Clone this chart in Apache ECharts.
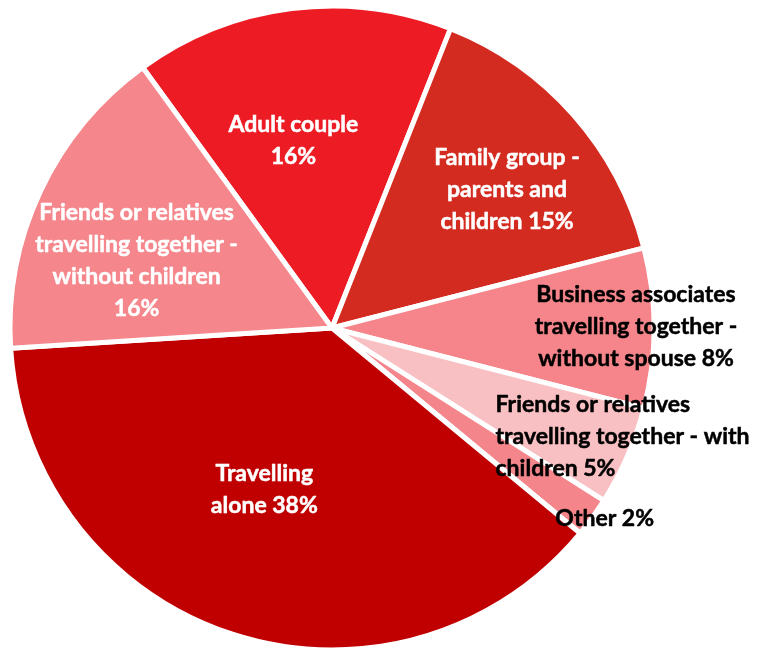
<!DOCTYPE html>
<html>
<head>
<meta charset="utf-8">
<style>
  html, body { margin: 0; padding: 0; background: #ffffff; }
  #chart { width: 760px; height: 652px; }
</style>
<script src="https://cdn.jsdelivr.net/npm/echarts@6/dist/echarts.min.js"></script>
</head>
<body>
<div id="chart"></div>
<script>
// Travel party composition (share of visitors, %)
const categories = [
  'Adult couple',
  'Family group - parents and children',
  'Business associates travelling together - without spouse',
  'Friends or relatives travelling together - with children',
  'Other',
  'Travelling alone',
  'Friends or relatives travelling together - without children'
];
const shares = [16, 15, 8, 5, 2, 38, 16];

// How each slice label wraps; {p} becomes the percentage
const labelText = [
  'Adult couple\n{p}',
  'Family group -\nparents and\nchildren {p}',
  'Business associates\ntravelling together -\nwithout spouse {p}',
  'Friends or relatives\ntravelling together - with\nchildren {p}',
  'Other {p}',
  'Travelling\nalone {p}',
  'Friends or relatives\ntravelling together -\nwithout children\n{p}'
];

const sliceColors = ['#ED1C24', '#D42B20', '#F5858A', '#F9C0C3', '#F4858A', '#C00000', '#F5868B'];
const labelColors = ['#ffffff', '#ffffff', '#000000', '#000000', '#000000', '#ffffff', '#ffffff'];
// Nudges of each label away from its default inside spot
const labelShift = [[-18, -25], [52, -30], [140, -1], [144, 43], [140, 94], [-17, 6], [-47, 2]];

const FONT = 'Lato, "Open Sans", sans-serif';
const FONT_SIZE = 23;
const LINE_H = 32;

const data = categories.map((name, i) => {
  const item = {
    name: name,
    value: shares[i],
    itemStyle: { color: sliceColors[i] },
    label: { color: labelColors[i], textBorderColor: labelColors[i], textBorderWidth: 0.5 }
  };
  if (i === 3) {
    // this label is left-aligned line by line
    item.label.rich = {
      l: {
        width: 262, align: 'left', color: labelColors[i],
        textBorderColor: labelColors[i], textBorderWidth: 0.5,
        fontFamily: FONT, fontWeight: 'bold', fontSize: FONT_SIZE, lineHeight: LINE_H
      }
    };
  }
  return item;
});

const chart = echarts.init(document.getElementById('chart'), null, { renderer: 'canvas' });
chart.setOption({
  backgroundColor: '#ffffff',
  animation: false,
  series: [{
    type: 'pie',
    center: [332, 328],
    radius: [0, 322],
    startAngle: 126,
    clockwise: true,
    avoidLabelOverlap: false,
    itemStyle: { borderColor: '#ffffff', borderWidth: 5 },
    emphasis: { disabled: true },
    label: {
      show: true,
      position: 'inside',
      fontFamily: FONT,
      fontWeight: 'bold',
      fontSize: FONT_SIZE,
      lineHeight: LINE_H,
      align: 'center',
      formatter: function (p) {
        const txt = labelText[p.dataIndex].replace('{p}', p.value + '%');
        if (p.dataIndex === 3) {
          return txt.split('\n').map(s => '{l|' + s + '}').join('\n');
        }
        return txt;
      }
    },
    labelLine: { show: false },
    labelLayout: function (p) {
      const s = labelShift[p.dataIndex];
      return { dx: s[0], dy: s[1] };
    },
    data: data
  }]
});
</script>
</body>
</html>
